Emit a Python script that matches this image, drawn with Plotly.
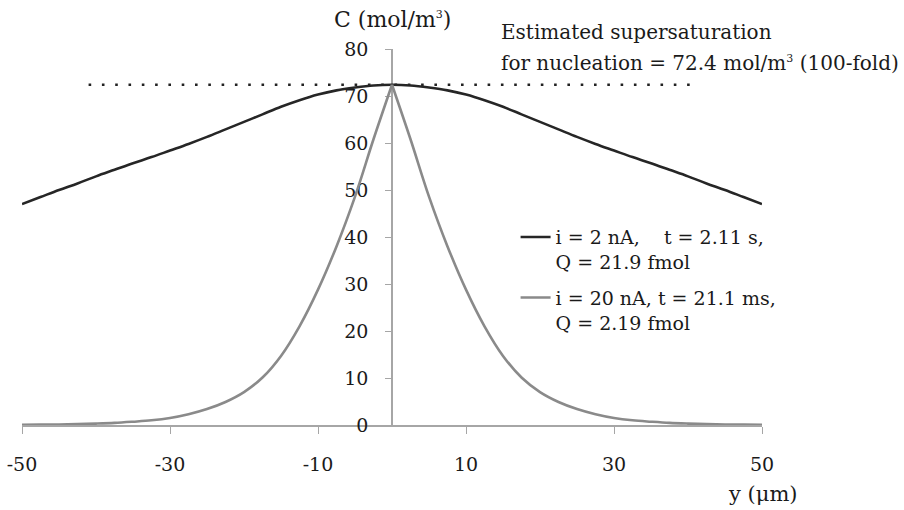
import plotly.graph_objects as go

# ---- data ----
y_um = [-50, -47.5, -45, -42.5, -40, -37.5, -35, -32.5, -30, -27.5, -25, -22.5, -20,
        -17.5, -15, -12.5, -10, -7.5, -5, -2.5, 0, 2.5, 5, 7.5, 10, 12.5, 15, 17.5,
        20, 22.5, 25, 27.5, 30, 32.5, 35, 37.5, 40, 42.5, 45, 47.5, 50]

conc_2nA = [47.0, 48.5, 50.0, 51.4, 52.9, 54.3, 55.7, 57.0, 58.4, 59.8, 61.3, 62.9, 64.5,
            66.1, 67.7, 69.1, 70.3, 71.2, 71.8, 72.25, 72.4, 72.25, 71.8, 71.2, 70.3, 69.1,
            67.7, 66.1, 64.5, 62.9, 61.3, 59.8, 58.4, 57.0, 55.7, 54.3, 52.9, 51.4, 50.0,
            48.5, 47.0]

conc_20nA = [0.05, 0.08, 0.12, 0.2, 0.3, 0.45, 0.7, 1.0, 1.5, 2.3, 3.4, 4.9, 7.0,
             10.1, 14.7, 21.0, 28.8, 38.0, 48.6, 60.8, 72.4, 60.8, 48.6, 38.0, 28.8, 21.0,
             14.7, 10.1, 7.0, 4.9, 3.4, 2.3, 1.5, 1.0, 0.7, 0.45, 0.3, 0.2, 0.12, 0.08, 0.05]

threshold = 72.4
threshold_span = [-41, 41]

x_ticks = [-50, -30, -10, 10, 30, 50]
x_tick_labels = ["-50", "-30", "-10", "10", "30", "50"]
y_ticks = [0, 10, 20, 30, 40, 50, 60, 70, 80]

name_2nA = "i = 2 nA,    t = 2.11 s,<br>Q = 21.9 fmol"
name_20nA = "i = 20 nA, t = 21.1 ms,<br>Q = 2.19 fmol"

FONT = "Palatino Linotype, Book Antiqua, Palatino, DejaVu Serif, serif"
TXT = "#1a1a1a"
AX = "#a6a6a6"
SUP3 = "<sup><span style='font-size:11px'>3</span></sup>"

fig = go.Figure()

fig.add_trace(go.Scatter(
    x=threshold_span, y=[threshold, threshold], mode="lines",
    line=dict(color="#222222", width=2.6, dash="2.6px,10.7px"),
    showlegend=False, hoverinfo="skip"))

fig.add_trace(go.Scatter(
    x=y_um, y=conc_2nA, mode="lines", name=name_2nA, legendgroup="a",
    line=dict(color="#262626", width=2.6, shape="spline", smoothing=1.0)))

mid = y_um.index(0)
fig.add_trace(go.Scatter(
    x=y_um[:mid + 1], y=conc_20nA[:mid + 1], mode="lines", name=name_20nA,
    legendgroup="b",
    line=dict(color="#8a8a8a", width=2.6, shape="spline", smoothing=1.0)))
fig.add_trace(go.Scatter(
    x=y_um[mid:], y=conc_20nA[mid:], mode="lines", name=name_20nA,
    legendgroup="b", showlegend=False,
    line=dict(color="#8a8a8a", width=2.6, shape="spline", smoothing=1.0)))

fig.update_layout(
    width=904, height=510,
    margin=dict(l=22, r=142, t=49, b=85),
    paper_bgcolor="white", plot_bgcolor="white",
    font=dict(family=FONT, size=19, color=TXT),
    xaxis=dict(range=[-50, 50], tickvals=x_ticks, ticktext=x_tick_labels,
               ticks="outside", ticklen=7, automargin=False,
               tickcolor=AX, showline=True, linecolor=AX, linewidth=1.5,
               showgrid=False, zeroline=False, ticklabelstandoff=14,
               layer="below traces", tickfont=dict(size=19, color=TXT)),
    yaxis=dict(range=[0, 80], tickvals=y_ticks, ticks="outside", ticklen=6,
               tickcolor=AX, showline=True, linecolor=AX, linewidth=1.5,
               showgrid=False, zeroline=False, anchor="free", position=0.5,
               side="left", ticklabelstandoff=13, layer="below traces",
               automargin=False, tickfont=dict(size=19, color=TXT)),
    legend=dict(x=0.667, y=0.55, xanchor="left", yanchor="top",
                valign="top", tracegroupgap=8, bgcolor="rgba(0,0,0,0)",
                font=dict(size=19, color=TXT)),
    annotations=[
        dict(text="C (mol/m" + SUP3 + ")", x=0, xref="x", y=20, yref="paper",
             showarrow=False, xanchor="center", yanchor="middle",
             font=dict(size=22)),
        dict(text="Estimated supersaturation", x=499, y=32,
             xref="paper", yref="paper", showarrow=False, xanchor="left",
             yanchor="middle", font=dict(size=20)),
        dict(text="for nucleation = 72.4 mol/m" + SUP3 + " (100-fold)", x=499, y=63,
             xref="paper", yref="paper", showarrow=False, xanchor="left",
             yanchor="middle", font=dict(size=20)),
        dict(text="y (\u03bcm)", x=763, y=494, xref="paper", yref="paper",
             showarrow=False, xanchor="center", yanchor="middle",
             font=dict(size=21)),
    ],
)

# convert pixel positions of annotations to paper coordinates
L, R, T, B = 22, 762, 49, 425
for a in fig.layout.annotations:
    if a.xref == "paper":
        a.x = (a.x - L) / (R - L)
    if a.yref == "paper":
        a.y = (B - a.y) / (B - T)

fig.write_html("out.html")
